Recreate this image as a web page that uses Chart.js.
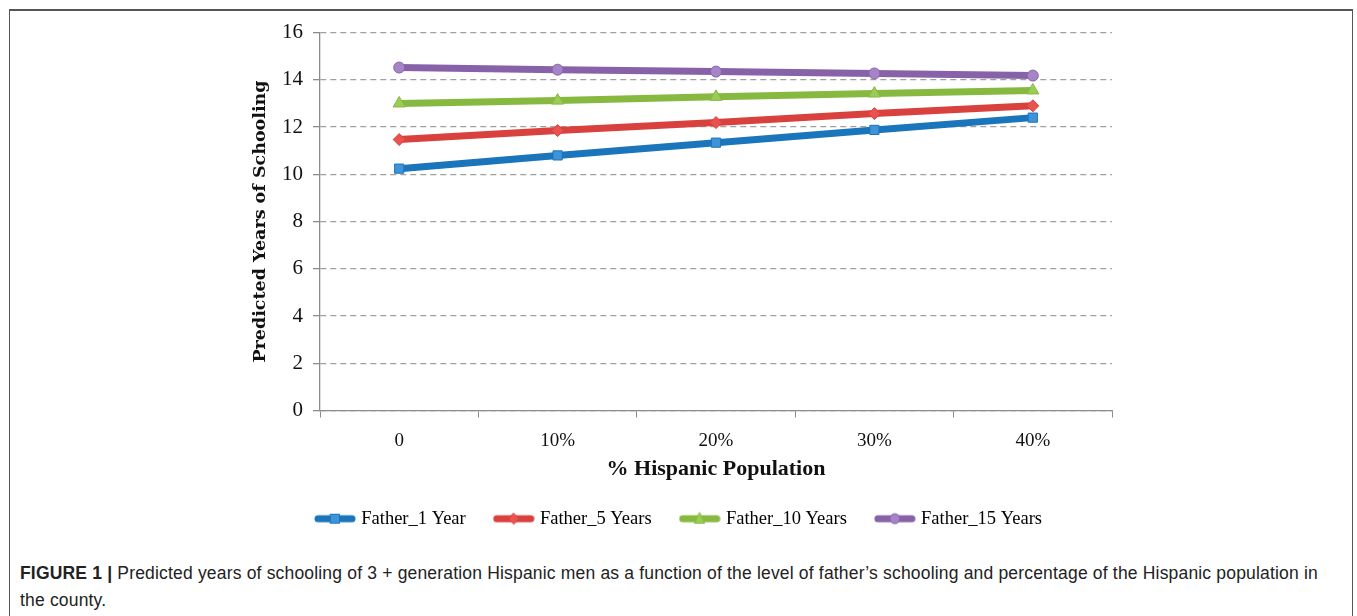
<!DOCTYPE html>
<html>
<head>
<meta charset="utf-8">
<script src="https://cdn.jsdelivr.net/npm/chart.js@4.4.0/dist/chart.umd.min.js"></script>
<style>
  html, body { margin: 0; padding: 0; background: #fff; }
  body { width: 1357px; height: 616px; position: relative; overflow: hidden; }
  #frame {
    position: absolute; left: 9px; top: 9px; width: 1344px; height: 640px;
    border: 1px solid #555; border-top: 2px solid #555; box-sizing: border-box;
  }
  #chartWrap { position: absolute; left: 10px; top: 10px; width: 1341px; height: 530px; }
  #caption {
    position: absolute; left: 20px; top: 560px; width: 1325px;
    font-family: "Liberation Sans", Arial, sans-serif; font-size: 17.5px;
    line-height: 27px; color: #222; letter-spacing: 0.18px; white-space: nowrap;
  }
  #caption b { font-weight: bold; }
</style>
</head>
<body>
<div id="frame"></div>
<div id="chartWrap"><canvas id="schoolChart"></canvas></div>
<div id="caption"><b>FIGURE 1 |</b> Predicted years of schooling of 3 + generation Hispanic men as a function of the level of father’s schooling and percentage of the Hispanic population in<br>the county.</div>

<script>
// categories + series
const hispanicShare = ["0", "10%", "20%", "30%", "40%"];
const father1 = [10.24, 10.8, 11.34, 11.88, 12.4];
const father5 = [11.47, 11.85, 12.19, 12.57, 12.9];
const father10 = [13.0, 13.12, 13.28, 13.42, 13.55];
const father15 = [14.52, 14.43, 14.35, 14.27, 14.18];
const yTicks = [0, 2, 4, 6, 8, 10, 12, 14, 16];

const seriesNames = ["Father_1 Year", "Father_5 Years", "Father_10 Years", "Father_15 Years"];
const lineColors = ["#1b75bb", "#d9413f", "#87b941", "#8762a8"];
const markFills = ["#3f93d8", "#e9524f", "#9bcc55", "#a585c6"];
const markStyles = ["rect", "rectRot", "triangle", "circle"];
const markRadius = [6.5, 6, 7, 5.5];

// legend swatch: thick line with the marker in the middle
function legendSwatch(i) {
  const c = document.createElement("canvas");
  c.width = 42; c.height = 16;
  const g = c.getContext("2d");
  g.strokeStyle = lineColors[i];
  g.lineWidth = 7;
  g.lineCap = "round";
  g.beginPath(); g.moveTo(4, 8); g.lineTo(38, 8); g.stroke();
  g.fillStyle = markFills[i];
  g.strokeStyle = lineColors[i];
  g.lineWidth = 1;
  g.beginPath();
  if (i === 0) g.rect(16.5, 3.5, 9, 9);
  else if (i === 1) { g.moveTo(21, 2.5); g.lineTo(26, 8); g.lineTo(21, 13.5); g.lineTo(16, 8); g.closePath(); }
  else if (i === 2) { g.moveTo(21, 2); g.lineTo(26, 12.5); g.lineTo(16, 12.5); g.closePath(); }
  else g.arc(21, 8, 5, 0, Math.PI * 2);
  g.fill(); g.stroke();
  return c;
}

const allSeries = [father1, father5, father10, father15];
const datasets = allSeries.map((vals, i) => ({
  label: seriesNames[i],
  data: vals,
  borderColor: lineColors[i],
  backgroundColor: markFills[i],
  borderWidth: 7,
  pointStyle: markStyles[i],
  pointRadius: markRadius[i],
  pointBorderColor: lineColors[i],
  pointBackgroundColor: markFills[i],
  pointBorderWidth: 1,
  tension: 0,
  fill: false
}));

const serif = "'Liberation Serif', 'DejaVu Serif', serif";

new Chart(document.getElementById("schoolChart"), {
  type: "line",
  data: { labels: hispanicShare, datasets: datasets },
  options: {
    responsive: true,
    maintainAspectRatio: false,
    animation: false,
    layout: { padding: { left: 238, right: 239, top: 16, bottom: 2 } },
    scales: {
      x: {
        offset: true,
        grid: { drawOnChartArea: false, offset: true, tickLength: 7, color: "#8c8c8c" },
        border: { color: "#8c8c8c", width: 1.3 },
        ticks: { font: { family: serif, size: 19 }, color: "#111", padding: 12 },
        title: { display: true, text: "% Hispanic Population", font: { family: serif, size: 22, weight: "bold", lineHeight: 1 }, color: "#111", padding: { top: 0, bottom: -2 } },
        afterFit: s => { s.height = 68; }
      },
      y: {
        min: 0, max: 16,
        afterBuildTicks: s => { s.ticks = yTicks.map(v => ({ value: v })); },
        grid: { color: "#a0a0a0", lineWidth: 1.3, tickLength: 7, tickColor: "#8c8c8c", tickBorderDash: [] },
        border: { color: "#8c8c8c", width: 1.3, dash: [6, 4] },
        ticks: { font: { family: serif, size: 21 }, color: "#111", padding: 10 },
        title: { display: true, text: "Predicted Years of Schooling", font: { family: "'DejaVu Serif', serif", size: 17.5, weight: "bold" }, color: "#111", padding: { top: 1.5, bottom: 0 } },
        afterFit: s => { s.width = 72; }
      }
    },
    plugins: {
      legend: {
        position: "bottom",
        labels: {
          usePointStyle: true,
          pointStyleWidth: 34,
          padding: 31,
          font: { family: serif, size: 18.5 },
          color: "#111",
          generateLabels: chart => chart.data.datasets.map((ds, i) => ({
            text: ds.label,
            pointStyle: legendSwatch(i),
            fillStyle: ds.backgroundColor,
            strokeStyle: ds.borderColor,
            lineWidth: 0,
            datasetIndex: i,
            hidden: false
          }))
        }
      },
      tooltip: { enabled: false }
    }
  }
});
</script>
</body>
</html>
